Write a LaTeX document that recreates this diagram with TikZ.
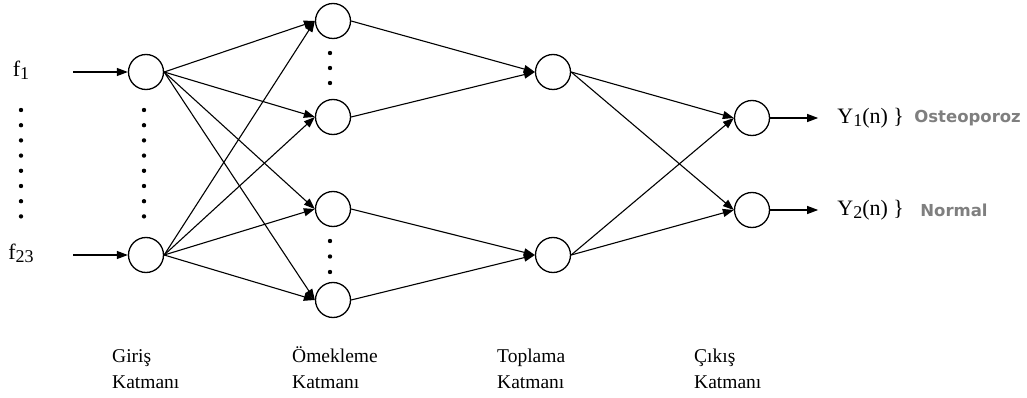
\documentclass[tikz,border=0pt]{standalone}
\usepackage{fontspec}
\setmainfont{Liberation Serif}
\newfontfamily\classfont{DejaVu Sans}
\usepackage{xcolor}
\usetikzlibrary{positioning, arrows.meta}
\definecolor{classColor}{HTML}{7F7F7F}
\newcommand{\lowidx}[1]{\raisebox{-3pt}{\fontsize{18}{18}\selectfont #1}}

\begin{document}
\begin{tikzpicture}[
  x=1pt, y=-1pt,
  neuron/.style={
    circle,
    draw,
    line width=1.3pt,
    minimum size=35pt,
    inner sep=0pt
  },
  link/.style={
    -{Triangle[length=11pt,width=8pt]},
    line width=1.1pt
  },
  tag/.style={
    font=\fontsize{22}{24}\selectfont,
    inner sep=0pt
  },
  layername/.style={
    align=left,
    anchor=base west,
    inner sep=0pt,
    font=\fontsize{19.5}{26}\selectfont
  },
  classname/.style={
    font=\classfont\bfseries\fontsize{16.5}{18}\selectfont,
    text=classColor,
    inner sep=0pt
  }
]
  \useasboundingbox (0,0) rectangle (1027,398);

  % Define nodes
  \node[neuron] (in1) at (146,72) {};
  \node[neuron] (in2) at (146,255) {};

  \node[neuron] (pat1) at (333,21) {};
  \node[neuron] (pat2) at (333,117) {};
  \node[neuron] (pat3) at (333,209) {};
  \node[neuron] (pat4) at (333,300) {};

  \node[neuron] (sum1) at (553,72) {};
  \node[neuron] (sum2) at (553,255) {};

  \node[neuron] (out1) at (752,118) {};
  \node[neuron] (out2) at (752,210) {};

  % Inputs
  \node[tag] (f1) at (21,70) {f\lowidx{1}};
  \node[tag] (f23) at (21,253) {f\lowidx{23}};
  \coordinate (f1start) at (73,72);
  \coordinate (f23start) at (73,255);

  % Outputs
  \coordinate[right=48pt of out1.east] (y1end);
  \coordinate[right=48pt of out2.east] (y2end);
  \node[tag, right=19pt of y1end] (y1) {Y\lowidx{1}(n) \}};
  \node[tag, right=19pt of y2end] (y2) {Y\lowidx{2}(n) \}};
  \node[classname, right=10pt of y1] (osteo) {Osteoporoz};
  \node[classname, right=16pt of y2] (normal) {Normal};

  % Dots
  \foreach \k in {0,...,7} {
    \fill (21,110+15.2*\k) circle (2.2pt);
    \fill (144,110+15.2*\k) circle (2.2pt);
  }
  \foreach \k in {0,1,2} {
    \fill (330,53+15*\k) circle (2.2pt);
    \fill (330,241+15.5*\k) circle (2.2pt);
  }

  % Connect nodes with arrows
  \draw[link] (f1start) -- (in1.west);
  \draw[link] (f23start) -- (in2.west);
  \foreach \i in {in1,in2}
    \foreach \p in {pat1,pat2,pat3,pat4}
      \draw[link] (\i.east) -- (\p.west);
  \draw[link] (pat1.east) -- (sum1.west);
  \draw[link] (pat2.east) -- (sum1.west);
  \draw[link] (pat3.east) -- (sum2.west);
  \draw[link] (pat4.east) -- (sum2.west);
  \foreach \s in {sum1,sum2}
    \foreach \o in {out1,out2}
      \draw[link] (\s.east) -- (\o.west);
  \draw[link] (out1.east) -- (y1end);
  \draw[link] (out2.east) -- (y2end);

  % Layer names
  \node[layername] (giris) at (112,388) {Giriş\\Katmanı};
  \node[layername] (ornek) at (292,388) {Ömekleme\\Katmanı};
  \node[layername] (topla) at (497,388) {Toplama\\Katmanı};
  \node[layername] (cikis) at (694,388) {Çıkış\\Katmanı};
\end{tikzpicture}
\end{document}
